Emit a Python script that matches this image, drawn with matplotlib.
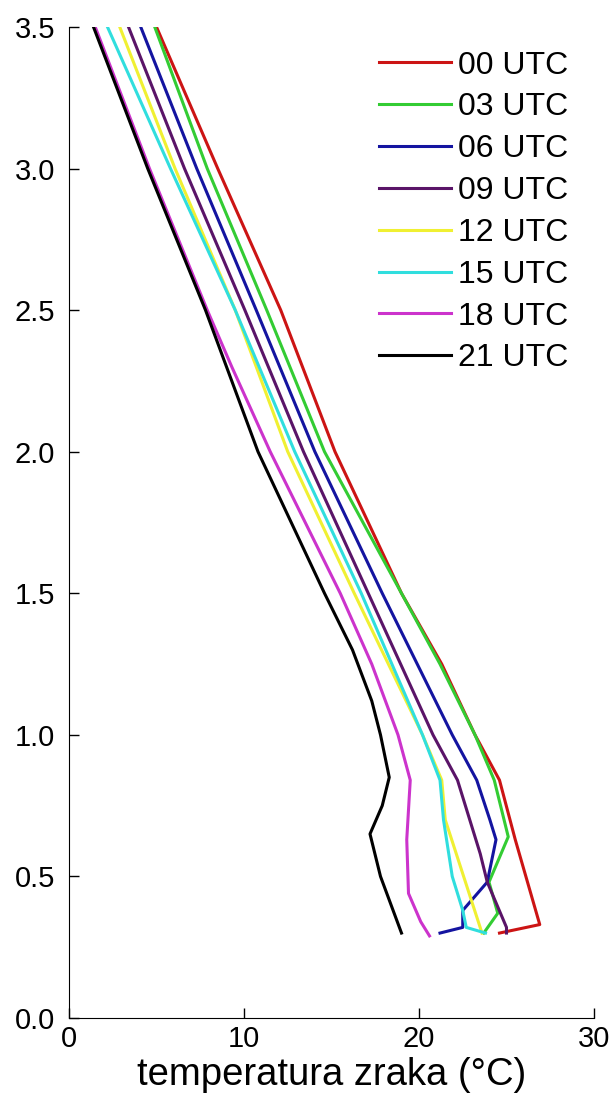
import matplotlib
matplotlib.use('Agg')
import matplotlib.pyplot as plt

plt.rcParams['font.family'] = ['Liberation Sans', 'DejaVu Sans']

labels = ['00 UTC', '03 UTC', '06 UTC', '09 UTC', '12 UTC', '15 UTC', '18 UTC', '21 UTC']
colors = ['#cc1414', '#33cc33', '#1414a0', '#5a1468', '#f0f032', '#30dede', '#cc33cc', '#000000']

# height (km) and temperature (degC) for each sounding time
h_00 = [3.5, 3.0, 2.5, 2.0, 1.5, 1.25, 1.0, 0.84, 0.70, 0.63, 0.33, 0.30]
t_00 = [5.0, 8.5, 12.1, 15.2, 19.0, 21.3, 23.2, 24.6, 25.2, 25.5, 26.9, 24.6]

h_03 = [3.5, 3.0, 2.5, 2.0, 1.5, 1.25, 1.0, 0.84, 0.64, 0.48, 0.37, 0.30]
t_03 = [4.9, 7.9, 11.3, 14.6, 19.0, 21.2, 23.2, 24.3, 25.1, 24.0, 24.5, 23.7]

h_06 = [3.5, 3.0, 2.5, 2.0, 1.5, 1.0, 0.84, 0.70, 0.63, 0.48, 0.38, 0.32, 0.30]
t_06 = [4.1, 7.3, 10.7, 14.05, 17.9, 21.9, 23.3, 24.05, 24.4, 23.9, 22.5, 22.5, 21.2]

h_09 = [3.5, 3.0, 2.5, 2.0, 1.5, 1.0, 0.84, 0.70, 0.58, 0.48, 0.32, 0.30]
t_09 = [3.4, 6.6, 10.05, 13.4, 17.1, 20.8, 22.2, 22.9, 23.5, 23.9, 25.0, 25.0]

h_12 = [3.5, 3.0, 2.5, 2.0, 1.5, 1.0, 0.84, 0.70, 0.30]
t_12 = [2.9, 6.06, 9.5, 12.5, 16.3, 20.2, 21.3, 21.5, 23.6]

h_15 = [3.5, 3.0, 2.5, 2.0, 1.5, 1.0, 0.84, 0.70, 0.50, 0.38, 0.32, 0.30]
t_15 = [2.2, 5.8, 9.5, 12.9, 16.7, 20.2, 21.2, 21.4, 21.9, 22.5, 22.7, 23.8]

h_18 = [3.5, 3.0, 2.5, 2.3, 2.0, 1.5, 1.25, 1.0, 0.84, 0.63, 0.44, 0.34, 0.29]
t_18 = [1.5, 4.6, 7.9, 9.3, 11.5, 15.5, 17.3, 18.8, 19.5, 19.3, 19.4, 20.1, 20.6]

h_21 = [3.5, 3.0, 2.5, 2.0, 1.5, 1.3, 1.12, 1.0, 0.85, 0.75, 0.65, 0.5, 0.30]
t_21 = [1.4, 4.5, 7.8, 10.8, 14.6, 16.2, 17.3, 17.8, 18.3, 17.9, 17.2, 17.8, 19.0]

heights = [h_00, h_03, h_06, h_09, h_12, h_15, h_18, h_21]
temps = [t_00, t_03, t_06, t_09, t_12, t_15, t_18, t_21]

fig = plt.figure(figsize=(6.14, 11.07), dpi=100)
ax = fig.add_axes([69 / 614, 89 / 1107, 525 / 614, 991 / 1107])

for t, h, c, lab in zip(temps, heights, colors, labels):
    ax.plot(t, h, color=c, linewidth=2.2, label=lab)

ax.set_xlim(0, 30)
ax.set_ylim(0, 3.5)
ax.set_xticks([0, 10, 20, 30])
ax.set_yticks([0.0, 0.5, 1.0, 1.5, 2.0, 2.5, 3.0, 3.5])
ax.set_yticklabels(['0.0', '0.5', '1.0', '1.5', '2.0', '2.5', '3.0', '3.5'])
ax.tick_params(direction='in', length=7, width=1, labelsize=21)
ax.tick_params(axis='y', pad=10)
ax.tick_params(axis='x', pad=5)
ax.spines['top'].set_visible(False)
ax.spines['right'].set_visible(False)
ax.set_xlabel('temperatura zraka (°C)', fontsize=27.5, labelpad=3)

ax.legend(loc='upper right', frameon=False, fontsize=23, handlelength=2.25,
          handletextpad=0.2, labelspacing=0.37, borderaxespad=0.0,
          bbox_to_anchor=(0.975, 0.989))

fig.savefig('out.png', dpi=100)
